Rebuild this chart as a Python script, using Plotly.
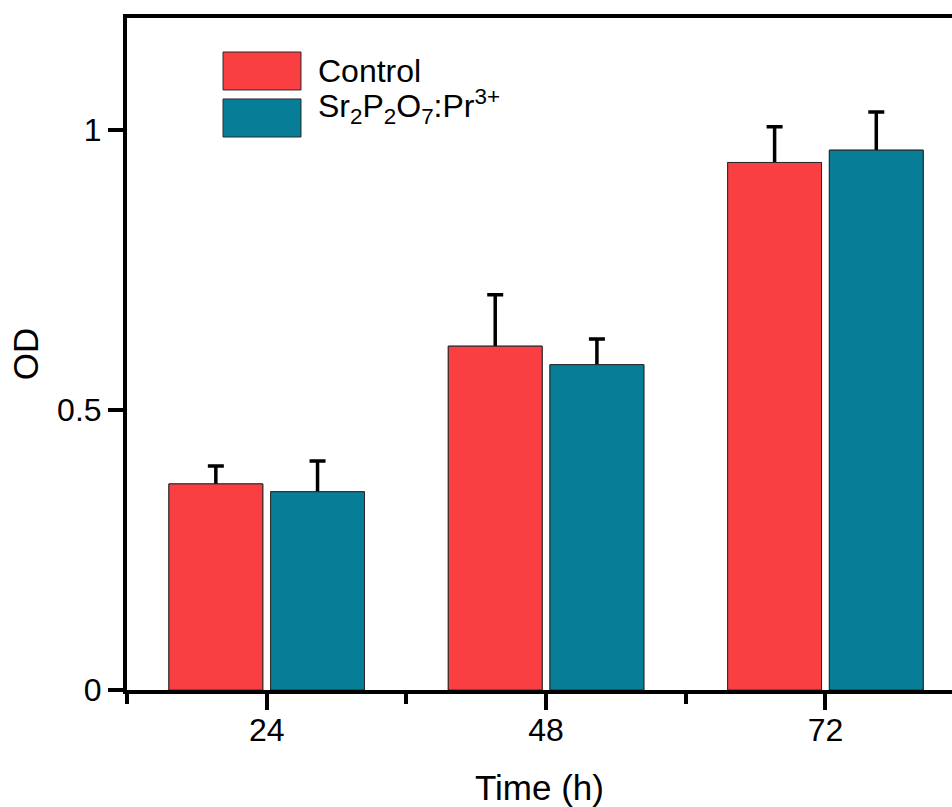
import plotly.graph_objects as go

# ---- data ----
times = [24, 48, 72]                      # Time (h)
control = [0.368, 0.614, 0.942]           # OD, Control
control_err = [0.032, 0.092, 0.064]
sr = [0.354, 0.581, 0.964]                # OD, Sr2P2O7:Pr3+
sr_err = [0.055, 0.046, 0.068]
series_names = ["Control", "Sr<sub>2</sub>P<sub>2</sub>O<sub>7</sub>:Pr<sup>3+</sup>"]
y_tickvals = [0, 0.5, 1]
y_ticktext = ["0", "0.5", "1"]

RED = "#FA3F42"
TEAL = "#077D97"
FONT = "Liberation Sans, Arial, sans-serif"

series = [
    (series_names[0], control, control_err, RED, "c"),
    (series_names[1], sr, sr_err, TEAL, "s"),
]

fig = go.Figure()
# bars carrying the error bars
for name, vals, errs, col, grp in series:
    fig.add_trace(go.Bar(
        x=times, y=vals, name=name, offsetgroup=grp,
        marker=dict(color=col, line=dict(color="#2a2a2a", width=1)),
        error_y=dict(type="data", array=errs, symmetric=True,
                     color="black", thickness=3.5, width=8),
        showlegend=False,
    ))
# identical bars on top, hiding the lower half of the error bars
for name, vals, errs, col, grp in series:
    fig.add_trace(go.Bar(
        x=times, y=vals, name=name, offsetgroup=grp,
        marker=dict(color=col, line=dict(color="#2a2a2a", width=1)),
        showlegend=False, hoverinfo="skip",
    ))

step = times[1] - times[0]
minor_vals = [t - step / 2 for t in times]

# ---- manual legend (large swatches) ----
legend_rows = [(series_names[0], RED, 0.8929, 0.9494, 0.921),
               (series_names[1], TEAL, 0.8229, 0.8795, 0.868)]
shapes = []
annotations = []
for name, col, y0, y1, ty in legend_rows:
    shapes.append(dict(type="rect", xref="paper", yref="paper",
                       x0=0.1164, x1=0.2109, y0=y0, y1=y1,
                       fillcolor=col, line=dict(color="#2a2a2a", width=1)))
    annotations.append(dict(xref="paper", yref="paper", x=0.2291, y=ty,
                            xanchor="left", yanchor="middle", text=name,
                            showarrow=False,
                            font=dict(family=FONT, size=32, color="black")))

fig.update_layout(
    width=952, height=807,
    margin=dict(l=127, r=0, t=18, b=117),
    paper_bgcolor="white", plot_bgcolor="white",
    barmode="group", bargap=0.272, bargroupgap=0.077,
    font=dict(family=FONT, size=32, color="black"),
    shapes=shapes, annotations=annotations,
    showlegend=False,
)
fig.update_xaxes(
    type="linear", range=[times[0] - step / 2, times[0] + 2.453 * step],
    tickvals=times, ticks="outside", ticklen=16, tickwidth=4, tickcolor="black",
    minor=dict(tickvals=minor_vals, ticks="outside", ticklen=10, tickwidth=4,
               tickcolor="black"),
    showline=True, linewidth=4, linecolor="black", mirror=True,
    showgrid=False, zeroline=False,
    tickfont=dict(size=32), ticklabelstandoff=-7,
    title=dict(text="Time (h)", font=dict(size=35), standoff=29),
)
fig.update_yaxes(
    range=[0, 1.2], tickvals=y_tickvals, ticktext=y_ticktext,
    ticks="outside", ticklen=15, tickwidth=4, tickcolor="black",
    showline=True, linewidth=4, linecolor="black", mirror=False,
    showgrid=False, zeroline=False,
    tickfont=dict(size=32),
    title=dict(text="OD", font=dict(size=35), standoff=9),
)

fig.write_html("out.html")
